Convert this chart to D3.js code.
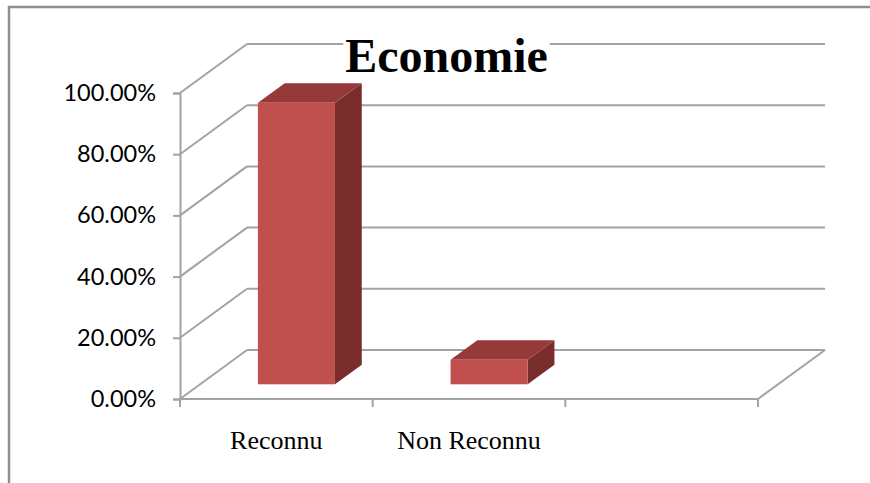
<!DOCTYPE html>
<html>
<head>
<meta charset="utf-8">
<script src="https://cdn.jsdelivr.net/npm/d3@7"></script>
<style>
  html, body { margin: 0; padding: 0; background: #fff; }
  svg { display: block; }
</style>
</head>
<body>
<svg id="chart" width="870" height="483"></svg>
<script>
// ---- data ----
const title = "Economie";
const categories = ["Reconnu", "Non Reconnu", ""];
const values = [0.92, 0.08, null];
const yTicks = [0, 0.2, 0.4, 0.6, 0.8, 1.0];

// ---- layout ----
const W = 870, H = 483;
const front = { left: 180, right: 758, bottom: 399, top: 93 };
const depth = { dx: 67, dy: -49 };           // full-depth oblique offset
const barDepth = [0.3, 0.7];                 // bar occupies this depth slice
const barWidthRatio = 0.4;

const colors = {
  grid: "#a3a3a3",
  border: "#8f8f8f",
  front: "#c0504d",
  top: "#953a38",
  side: "#7a2e2c",
  text: "#000"
};

const svg = d3.select("#chart");

// outer chart border (extends past right/bottom edges like the crop)
svg.append("rect")
  .attr("x", 9).attr("y", 7)
  .attr("width", W + 20).attr("height", H + 20)
  .attr("fill", "#fff")
  .attr("stroke", colors.border)
  .attr("stroke-width", 2.5);

const x = d3.scaleBand().domain(categories).range([front.left, front.right]).paddingInner(0).paddingOuter(0);
const y = d3.scaleLinear().domain([0, 1]).range([front.bottom, front.top]);

const off = z => [depth.dx * z, depth.dy * z];

const g = svg.append("g");

// back wall gridlines
g.append("g").selectAll("line").data(yTicks).join("line")
  .attr("x1", front.left + depth.dx)
  .attr("x2", front.right + depth.dx)
  .attr("y1", d => y(d) + depth.dy)
  .attr("y2", d => y(d) + depth.dy)
  .attr("stroke", colors.grid).attr("stroke-width", 2);

// side wall diagonals
g.append("g").selectAll("line").data(yTicks).join("line")
  .attr("x1", front.left)
  .attr("x2", front.left + depth.dx)
  .attr("y1", d => y(d))
  .attr("y2", d => y(d) + depth.dy)
  .attr("stroke", colors.grid).attr("stroke-width", 2);

// floor right edge
g.append("line")
  .attr("x1", front.right).attr("y1", y(0))
  .attr("x2", front.right + depth.dx).attr("y2", y(0) + depth.dy)
  .attr("stroke", colors.grid).attr("stroke-width", 2);

// y axis (front left edge)
const yAxis = d3.axisLeft(y)
  .tickValues(yTicks)
  .tickFormat(d3.format(".2%"))
  .tickSize(7)
  .tickPadding(17);
const yg = g.append("g").attr("transform", `translate(${front.left},0)`).call(yAxis);
yg.select(".domain").attr("stroke", colors.grid).attr("stroke-width", 2);
yg.selectAll(".tick line").attr("stroke", colors.grid).attr("stroke-width", 2);
yg.selectAll(".tick text")
  .attr("fill", colors.text)
  .style("font-family", "Lato, 'Open Sans', sans-serif")
  .style("font-size", "23.5px");

// x axis front edge
g.append("line")
  .attr("x1", front.left - 1).attr("x2", front.right)
  .attr("y1", y(0)).attr("y2", y(0))
  .attr("stroke", colors.grid).attr("stroke-width", 2);

const bounds = categories.map(c => x(c)).concat([front.right]);
g.append("g").selectAll("line").data(bounds).join("line")
  .attr("x1", d => d).attr("x2", d => d)
  .attr("y1", y(0)).attr("y2", y(0) + 8)
  .attr("stroke", colors.grid).attr("stroke-width", 2);

// category labels
g.append("g").selectAll("text").data(categories).join("text")
  .attr("x", d => x(d) + x.bandwidth() / 2)
  .attr("y", y(0) + 50)
  .attr("text-anchor", "middle")
  .attr("fill", colors.text)
  .style("font-family", "'Liberation Serif', 'Times New Roman', serif")
  .style("font-size", "26px")
  .text(d => d);

// bars (3D boxes)
const bw = x.bandwidth() * barWidthRatio;
const barData = categories.map((c, i) => ({ c, v: values[i] })).filter(d => d.v != null);
const bars = g.append("g").selectAll("g").data(barData).join("g");

function pts(arr) { return arr.map(p => p.join(",")).join(" "); }

bars.each(function(d) {
  const sel = d3.select(this);
  const [ox0, oy0] = off(barDepth[0]);
  const [ox1, oy1] = off(barDepth[1]);
  const xl = x(d.c) + (x.bandwidth() - bw) / 2 + ox0;
  const xr = xl + bw;
  const yb = y(0) + oy0;
  const yt = y(d.v) + oy0;
  const ddx = ox1 - ox0, ddy = oy1 - oy0;
  // side face
  sel.append("polygon")
    .attr("points", pts([[xr, yb], [xr + ddx, yb + ddy], [xr + ddx, yt + ddy], [xr, yt]]))
    .attr("fill", colors.side);
  // top face
  sel.append("polygon")
    .attr("points", pts([[xl, yt], [xl + ddx, yt + ddy], [xr + ddx, yt + ddy], [xr, yt]]))
    .attr("fill", colors.top);
  // front face
  sel.append("rect")
    .attr("x", xl).attr("y", yt)
    .attr("width", bw).attr("height", yb - yt)
    .attr("fill", colors.front);
});

// title with white backing
const tg = svg.append("g");
const tt = tg.append("text")
  .attr("x", 446.5).attr("y", 72)
  .attr("text-anchor", "middle")
  .attr("fill", colors.text)
  .style("font-family", "'Liberation Serif', 'Times New Roman', serif")
  .style("font-weight", "bold")
  .style("font-size", "48px")
  .text(title);
const bb = tt.node().getBBox();
tg.insert("rect", "text")
  .attr("x", bb.x - 2).attr("y", 38)
  .attr("width", bb.width + 4).attr("height", 12)
  .attr("fill", "#fff");
</script>
</body>
</html>
